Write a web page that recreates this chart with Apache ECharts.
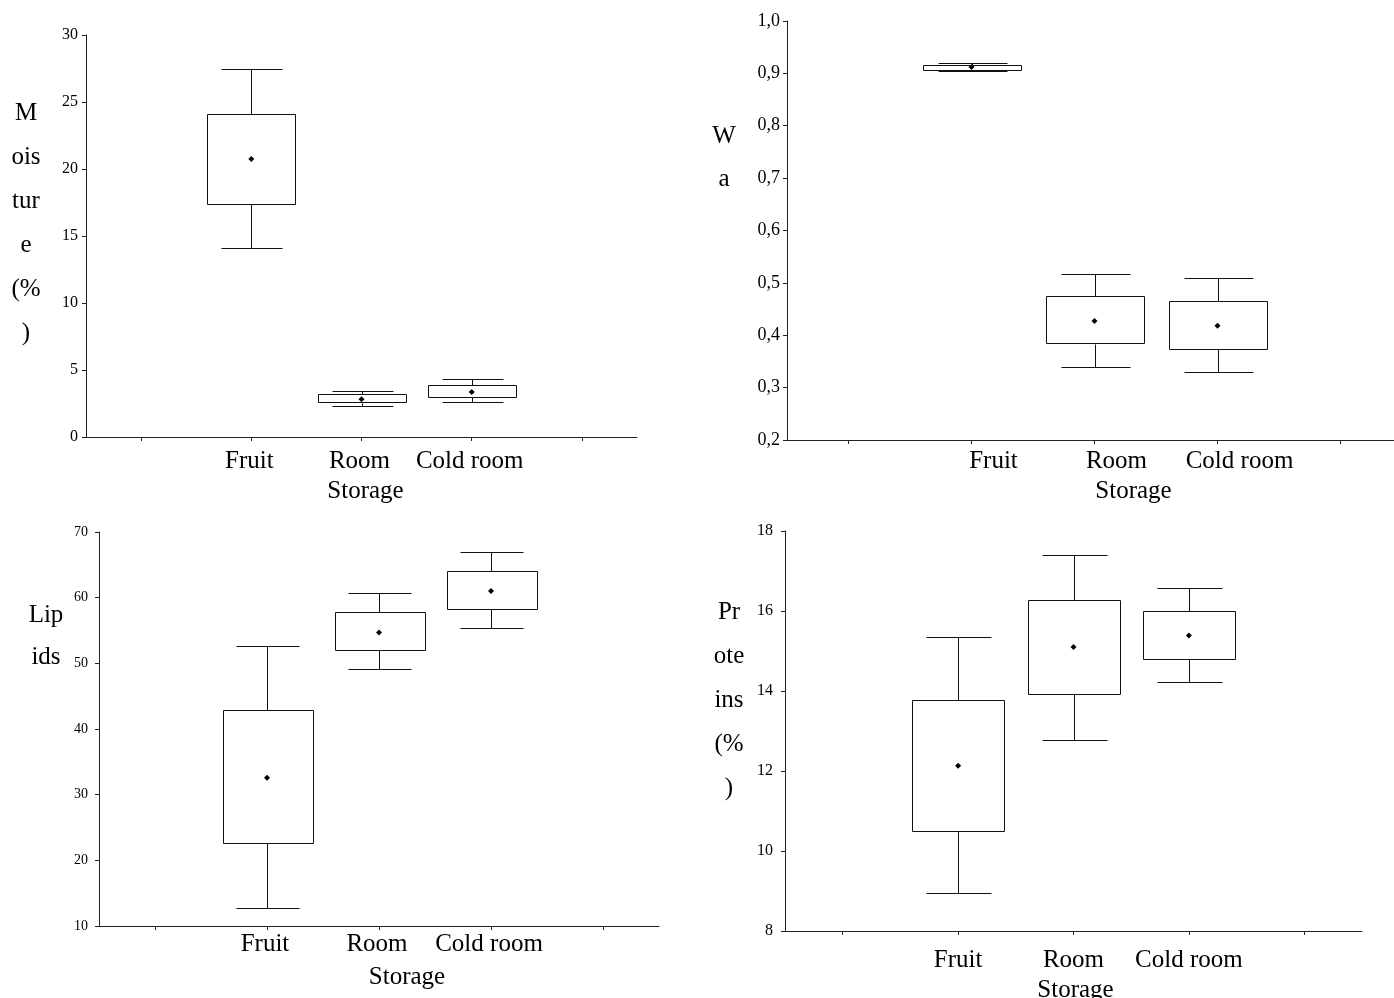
<!DOCTYPE html>
<html>
<head>
<meta charset="utf-8">
<script src="https://cdn.jsdelivr.net/npm/echarts@6/dist/echarts.min.js"></script>
<style>
  html, body { margin: 0; padding: 0; background: #fff; }
  #chart { width: 1394px; height: 998px; }
</style>
</head>
<body>
<div id="chart"></div>
<script>
// Category slots: the blank ends give the outer tick marks on each side.
const categories = ['', 'Fruit', 'Room', 'Cold room', ' '];

// Each row: [storage, lower whisker, box bottom, mean, box top, upper whisker]
const moisture = [
  ['Fruit', 14.08, 17.39, 20.75, 24.13, 27.44],
  ['Room', 2.29, 2.56, 2.81, 3.19, 3.43],
  ['Cold room', 2.61, 3.01, 3.36, 3.88, 4.31]
];
const waterActivity = [
  ['Fruit', 0.904, 0.907, 0.912, 0.916, 0.919],
  ['Room', 0.340, 0.384, 0.427, 0.474, 0.517],
  ['Cold room', 0.330, 0.374, 0.418, 0.465, 0.510]
];
const lipids = [
  ['Fruit', 12.74, 22.60, 32.56, 42.88, 52.68],
  ['Room', 49.13, 51.97, 54.71, 57.82, 60.65],
  ['Cold room', 55.43, 58.28, 61.02, 64.07, 66.90]
];
const proteins = [
  ['Fruit', 8.95, 10.51, 12.13, 13.78, 15.35],
  ['Room', 12.77, 13.92, 15.10, 16.27, 17.40],
  ['Cold room', 14.22, 14.79, 15.39, 16.00, 16.57]
];

// Axis titles, broken into short stacked lines
const moistureTitle = ['M', 'ois', 'tur', 'e', '(%', ')'];
const waTitle = ['W', 'a'];
const lipidsTitle = ['Lip', 'ids'];
const proteinsTitle = ['Pr', 'ote', 'ins', '(%', ')'];
const xTitle = 'Storage';

const FONT = '"Liberation Serif", "Times New Roman", Times, serif';
const INK = '#111';

// Box: mean marker, box edges and whisker ends, all through the axis scales
function renderBox(params, api) {
  const c = api.value(0);
  const band = api.size([1, 0])[0];
  const boxHalf = band * 0.4;
  const capHalf = band * 0.28;
  const pt = k => api.coord([c, api.value(k)]);
  const lo = pt(1), q1 = pt(2), mean = pt(3), q3 = pt(4), hi = pt(5);
  const r = v => Math.round(v) + 0.5;
  const x = r(lo[0]);
  const seg = (x1, y1, x2, y2) => ({
    type: 'line',
    shape: { x1, y1, x2, y2 },
    style: { stroke: INK, lineWidth: 1 }
  });
  const d = 3;
  return {
    type: 'group',
    children: [
      seg(x, r(hi[1]), x, r(q3[1])),
      seg(x, r(q1[1]), x, r(lo[1])),
      seg(r(x - capHalf), r(hi[1]), r(x + capHalf), r(hi[1])),
      seg(r(x - capHalf), r(lo[1]), r(x + capHalf), r(lo[1])),
      {
        type: 'rect',
        shape: {
          x: r(x - boxHalf),
          y: r(q3[1]),
          width: Math.round(2 * boxHalf),
          height: Math.max(1, Math.round(q1[1] - q3[1]))
        },
        style: { fill: '#fff', stroke: INK, lineWidth: 1 }
      },
      {
        type: 'polygon',
        shape: {
          points: [
            [mean[0], mean[1] - d],
            [mean[0] + d, mean[1]],
            [mean[0], mean[1] + d],
            [mean[0] - d, mean[1]]
          ]
        },
        style: { fill: '#000' }
      }
    ]
  };
}

const panels = [
  {
    data: moisture, grid: { left: 86, top: 35, width: 551, height: 402 },
    min: 0, max: 30, interval: 5, tickSize: 16, tickMargin: 8,
    labelMargin: 12, labelPad: [0, 4, 0, 0], nameGap: 42, namePad: [0, 0, 0, 8],
    title: moistureTitle, titleX: 26, titleY: 113, titleLH: 44
  },
  {
    data: waterActivity, grid: { left: 787, top: 21, width: 615, height: 419 },
    min: 0.2, max: 1.0, interval: 0.1, tickSize: 18, tickMargin: 7, comma: true,
    labelMargin: 9, labelPad: [0, 0, 0, 44], nameGap: 39, namePad: [0, 0, 0, 78],
    title: waTitle, titleX: 724, titleY: 136, titleLH: 43
  },
  {
    data: lipids, grid: { left: 99, top: 532, width: 560, height: 394 },
    min: 10, max: 70, interval: 10, tickSize: 14, tickMargin: 11,
    labelMargin: 6, labelPad: [0, 4, 0, 0], nameGap: 39, namePad: [0, 0, 0, 56],
    title: lipidsTitle, titleX: 46, titleY: 615, titleLH: 42
  },
  {
    data: proteins, grid: { left: 785, top: 531, width: 577, height: 400 },
    min: 8, max: 18, interval: 2, tickSize: 16, tickMargin: 12,
    labelMargin: 17, labelPad: [0, 0, 0, 0], nameGap: 47, namePad: [0, 0, 0, 4],
    title: proteinsTitle, titleX: 729, titleY: 612, titleLH: 44
  }
];

const axisLine = { show: true, lineStyle: { color: '#222', width: 1 } };

const option = {
  animation: false,
  backgroundColor: '#fff',
  textStyle: { fontFamily: FONT, color: '#000' },
  grid: panels.map(p => Object.assign({ containLabel: false, outerBoundsMode: 'none' }, p.grid)),
  xAxis: panels.map((p, i) => ({
    type: 'category',
    gridIndex: i,
    data: categories,
    boundaryGap: true,
    axisLine,
    axisTick: { show: true, alignWithLabel: true, interval: 0, length: 4, lineStyle: { color: '#222' } },
    axisLabel: {
      interval: 0, fontSize: 25, fontFamily: FONT, color: '#000',
      margin: p.labelMargin, padding: p.labelPad
    },
    splitLine: { show: false },
    name: xTitle,
    nameLocation: 'middle',
    nameGap: p.nameGap,
    nameTextStyle: { fontSize: 25, fontFamily: FONT, color: '#000', padding: p.namePad }
  })),
  yAxis: panels.map((p, i) => ({
    type: 'value',
    gridIndex: i,
    min: p.min, max: p.max, interval: p.interval,
    axisLine,
    axisTick: { show: true, length: 4, lineStyle: { color: '#222' } },
    axisLabel: {
      fontSize: p.tickSize, fontFamily: FONT, color: '#000', margin: p.tickMargin,
      formatter: p.comma ? (v => v.toFixed(1).replace('.', ',')) : (v => String(v))
    },
    splitLine: { show: false }
  })),
  series: panels.map((p, i) => ({
    type: 'custom',
    xAxisIndex: i,
    yAxisIndex: i,
    renderItem: renderBox,
    encode: { x: 0, y: [1, 2, 3, 4, 5] },
    data: p.data,
    clip: false
  })),
  graphic: panels.map(p => ({
    type: 'text',
    x: p.titleX,
    y: p.titleY - p.titleLH / 2,
    silent: true,
    style: {
      text: p.title.join('\n'),
      fontSize: 25,
      fontFamily: FONT,
      fill: '#000',
      align: 'center',
      verticalAlign: 'top',
      lineHeight: p.titleLH
    }
  }))
};

const chart = echarts.init(document.getElementById('chart'));
chart.setOption(option);
</script>
</body>
</html>
